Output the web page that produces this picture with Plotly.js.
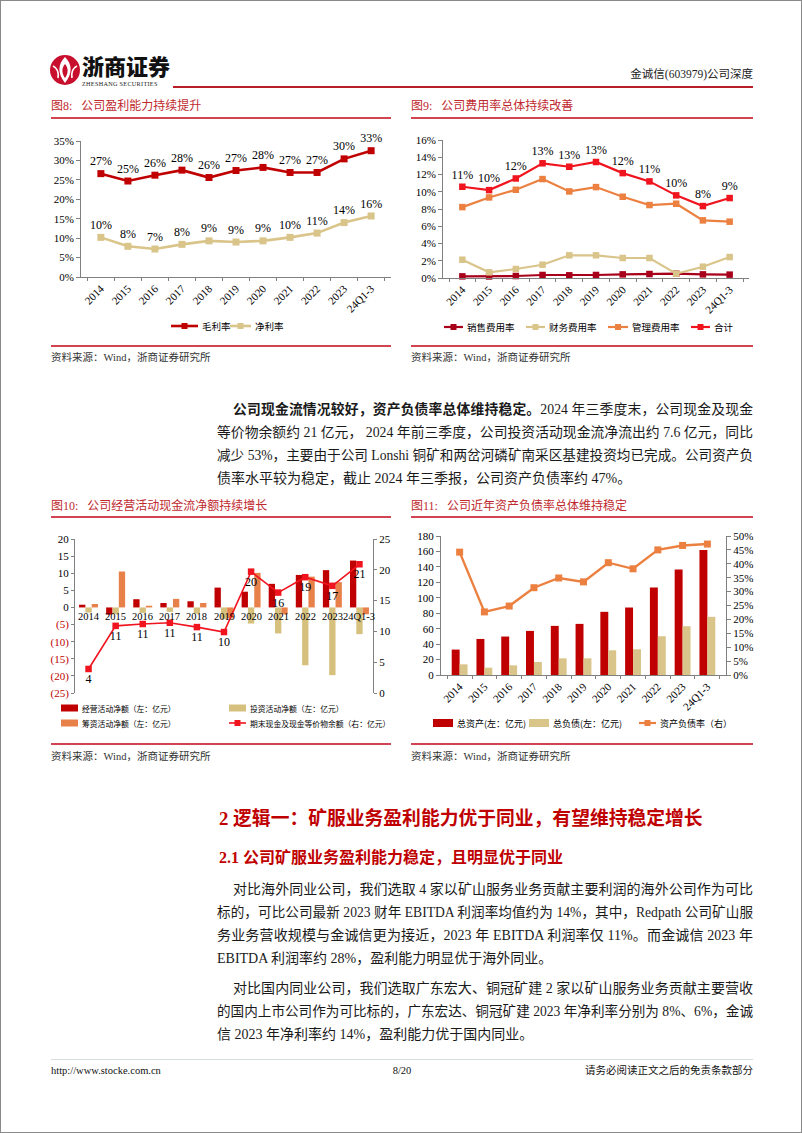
<!DOCTYPE html>
<html>
<head>
<meta charset="utf-8">
<script src="https://cdn.plot.ly/plotly-3.0.1.min.js"></script>
<style>
  html,body{margin:0;padding:0;background:#fff;}
  #page{position:relative;width:800px;height:1131px;border:1px solid #8a8a8a;overflow:hidden;
        font-family:"Liberation Serif","Noto Sans CJK SC",serif;color:#1a1a1a;background:#fff;}
  .a{position:absolute;white-space:nowrap;}
  .figt{font-size:12px;color:#C0282D;line-height:16px;}
  .rl{position:absolute;height:1.5px;background:#D24452;}
  .src{font-size:10.5px;color:#333;line-height:14px;}
  .jl{position:absolute;white-space:nowrap;font-size:14px;line-height:18px;text-align:justify;text-align-last:justify;overflow:visible;}
  .ll{position:absolute;white-space:nowrap;font-size:14px;line-height:18px;}
  .chart{position:absolute;}
</style>
</head>
<body>
<div id="page">
  <!-- header -->
  <svg class="a" style="left:48px;top:51px" width="32" height="36" viewBox="0 0 32 36">
    <circle cx="16" cy="18" r="15" fill="#C8102E"/>
    <path d="M16 5 C9 12 8 21 16 31 C24 21 23 12 16 5 Z" fill="#fff"/>
    <path d="M16 12 C12.5 16 12.5 21 16 26 C19.5 21 19.5 16 16 12 Z" fill="#C8102E"/>
    <path d="M4 14 C8 16 10 20 9 26" stroke="#fff" stroke-width="1.6" fill="none"/>
    <path d="M28 14 C24 16 22 20 23 26" stroke="#fff" stroke-width="1.6" fill="none"/>
  </svg>
  <div class="a" style="left:81px;top:51px;font-family:'Noto Sans CJK SC';font-weight:900;font-size:22px;line-height:27px;color:#111;">浙商证券</div>
  <div class="a" style="left:81px;top:79px;font-size:6.2px;line-height:8px;color:#222;letter-spacing:0.3px;">ZHESHANG SECURITIES</div>
  <div class="rl" style="left:172px;top:85px;width:580px;background:#B81D2A;"></div>
  <div class="a" style="left:600px;top:65px;width:152px;text-align:right;font-size:11.5px;line-height:16px;color:#222;">金诚信(603979)公司深度</div>

  <!-- row 1 titles -->
  <div class="a figt" style="left:50px;top:97px;">图8:&nbsp;&nbsp;&nbsp;公司盈利能力持续提升</div>
  <div class="rl" style="left:50px;top:116px;width:340px;"></div>
  <div class="a figt" style="left:410px;top:97px;">图9:&nbsp;&nbsp;&nbsp;公司费用率总体持续改善</div>
  <div class="rl" style="left:410px;top:116px;width:342px;"></div>

  <div id="c8" class="chart" style="left:40px;top:118px;width:360px;height:225px;"></div>
  <div id="c9" class="chart" style="left:400px;top:118px;width:360px;height:225px;"></div>

  <div class="rl" style="left:50px;top:344px;width:340px;"></div>
  <div class="rl" style="left:410px;top:344px;width:342px;"></div>
  <div class="a src" style="left:50px;top:350px;">资料来源：Wind，浙商证券研究所</div>
  <div class="a src" style="left:410px;top:350px;">资料来源：Wind，浙商证券研究所</div>

  <!-- paragraph 1 -->
  <div class="jl" style="left:232px;top:400px;width:520px;"><b>公司现金流情况较好，资产负债率总体维持稳定。</b>2024 年三季度末，公司现金及现金</div>
  <div class="jl" style="left:216px;top:423px;width:536px;">等价物余额约 21 亿元， 2024 年前三季度，公司投资活动现金流净流出约 7.6 亿元，同比</div>
  <div class="jl" style="left:216px;top:446px;width:536px;">减少 53%，主要由于公司 Lonshi 铜矿和两岔河磷矿南采区基建投资均已完成。公司资产负</div>
  <div class="ll" style="left:216px;top:469px;">债率水平较为稳定，截止 2024 年三季报，公司资产负债率约 47%。</div>

  <!-- row 2 titles -->
  <div class="a figt" style="left:50px;top:497px;">图10:&nbsp;&nbsp;&nbsp;公司经营活动现金流净额持续增长</div>
  <div class="rl" style="left:50px;top:515px;width:340px;"></div>
  <div class="a figt" style="left:410px;top:497px;">图11:&nbsp;&nbsp;&nbsp;公司近年资产负债率总体维持稳定</div>
  <div class="rl" style="left:410px;top:515px;width:342px;"></div>

  <div id="c10" class="chart" style="left:40px;top:520px;width:360px;height:222px;"></div>
  <div id="c11" class="chart" style="left:400px;top:520px;width:362px;height:222px;"></div>

  <div class="rl" style="left:50px;top:742px;width:340px;"></div>
  <div class="rl" style="left:410px;top:742px;width:342px;"></div>
  <div class="a src" style="left:50px;top:749px;">资料来源：Wind，浙商证券研究所</div>
  <div class="a src" style="left:410px;top:749px;">资料来源：Wind，浙商证券研究所</div>

  <!-- headings -->
  <div class="a" style="left:218px;top:805px;font-size:18.8px;line-height:25px;font-weight:bold;color:#C00000;">2 逻辑一：矿服业务盈利能力优于同业，有望维持稳定增长</div>
  <div class="a" style="left:218px;top:846px;font-size:16px;line-height:22px;font-weight:bold;color:#C00000;">2.1 公司矿服业务盈利能力稳定，且明显优于同业</div>

  <!-- paragraph 2 -->
  <div class="jl" style="left:232px;top:880px;width:520px;">对比海外同业公司，我们选取 4 家以矿山服务业务贡献主要利润的海外公司作为可比</div>
  <div class="jl" style="left:216px;top:903px;width:536px;">标的，可比公司最新 2023 财年 EBITDA 利润率均值约为 14%，其中，Redpath 公司矿山服</div>
  <div class="jl" style="left:216px;top:926px;width:536px;">务业务营收规模与金诚信更为接近，2023 年 EBITDA 利润率仅 11%。而金诚信 2023 年</div>
  <div class="ll" style="left:216px;top:949px;">EBITDA 利润率约 28%，盈利能力明显优于海外同业。</div>

  <!-- paragraph 3 -->
  <div class="jl" style="left:232px;top:979px;width:520px;">对比国内同业公司，我们选取广东宏大、铜冠矿建 2 家以矿山服务业务贡献主要营收</div>
  <div class="jl" style="left:216px;top:1002px;width:536px;">的国内上市公司作为可比标的，广东宏达、铜冠矿建 2023 年净利率分别为 8%、6%，金诚</div>
  <div class="ll" style="left:216px;top:1025px;">信 2023 年净利率约 14%，盈利能力优于国内同业。</div>

  <!-- footer -->
  <div class="a" style="left:50px;top:1058px;width:702px;height:1px;background:#d6dede;"></div>
  <div class="a src" style="left:50px;top:1063px;color:#111;">http://www.stocke.com.cn</div>
  <div class="a src" style="left:351px;top:1063px;width:100px;text-align:center;color:#111;">8/20</div>
  <div class="a src" style="left:552px;top:1063px;width:200px;text-align:right;color:#111;">请务必阅读正文之后的免责条款部分</div>
</div>

<script>
// ---------------- data ----------------
const years = ['2014','2015','2016','2017','2018','2019','2020','2021','2022','2023','24Q1-3'];

// Fig 8 (%)
const grossMargin = [26.6, 24.7, 26.2, 27.5, 25.6, 27.4, 28.2, 26.9, 26.9, 30.4, 32.5];
const netMargin   = [10.2, 7.9, 7.2, 8.4, 9.3, 9.0, 9.3, 10.2, 11.3, 14.0, 15.7];
const c8Ticks = [0, 5, 10, 15, 20, 25, 30, 35];

// Fig 9 (%)
const sellRate  = [0.19, 0.18, 0.23, 0.35, 0.31, 0.35, 0.42, 0.46, 0.50, 0.42, 0.39];
const finRate   = [2.12, 0.66, 1.04, 1.54, 2.63, 2.63, 2.32, 2.32, 0.50, 1.31, 2.43];
const mgmtRate  = [8.22, 9.34, 10.23, 11.47, 10.04, 10.54, 9.42, 8.46, 8.61, 6.68, 6.53];
const totalRate = [10.58, 10.19, 11.54, 13.3, 12.9, 13.45, 12.16, 11.2, 9.58, 8.34, 9.27];
const c9Ticks = [0, 2, 4, 6, 8, 10, 12, 14, 16];

// Fig 10 (亿元)
const opCash   = [0.8, -2.1, 2.4, 1.3, 1.8, 5.8, 4.6, 6.9, 9.5, 10.9, 13.7];
const invCash  = [-1.5, -1.9, -1.6, -1.3, -1.8, -3.4, -4.7, -7.6, -16.9, -19.8, -7.8];
const finCash  = [1.0, 10.5, 0.5, 2.5, 1.3, -3.2, 10.1, -2.0, 9.0, 7.4, -2.0];
const endCash  = [3.9, 10.9, 11.2, 11.4, 10.7, 9.9, 19.7, 16.3, 18.8, 17.4, 20.9];
const c10LeftTicks  = [-25, -20, -15, -10, -5, 0, 5, 10, 15, 20];
const c10RightTicks = [0, 5, 10, 15, 20, 25];

// Fig 11
const totalAssets = [32.9, 46.7, 49.8, 57.1, 63.6, 66.2, 81.8, 87.4, 113.4, 136.7, 161.8];
const totalDebt   = [13.8, 9.5, 12.5, 16.9, 21.6, 21.6, 32.0, 33.3, 50.2, 63.2, 75.3];
const debtRatio   = [44.2, 22.7, 24.8, 31.4, 34.9, 33.5, 40.4, 38.2, 45.0, 46.6, 47.1];
const c11LeftTicks  = [0, 20, 40, 60, 80, 100, 120, 140, 160, 180];
const c11RightTicks = [0, 5, 10, 15, 20, 25, 30, 35, 40, 45, 50];

// ---------------- styles ----------------
const FONT = '"Liberation Serif","Noto Sans CJK SC",serif';
const LFONT = '"Noto Sans CJK SC","Liberation Serif",sans-serif';
const AXC = '#808080';
const C_DARKRED = '#C00000';
const C_TAN = '#D9C48A';
const C_TAN2 = '#D6C07E';
const C_ORANGE = '#EB8040';
const C_ORANGE2 = '#E8804A';
const C_RED = '#F0141E';
const C_SELL = '#A8001A';
const config = {displayModeBar:false, staticPlot:true, responsive:false};

function ax(extra){
  return Object.assign({showgrid:false, zeroline:false, showline:true, linecolor:AXC, linewidth:1,
    ticks:'outside', ticklen:4, tickcolor:AXC, tickfont:{family:FONT, size:11, color:'#000'}}, extra);
}
function baseLayout(g){
  return {width:g.W, height:g.H, margin:{l:g.l, r:g.r, t:g.t, b:g.b, autoexpand:false},
          paper_bgcolor:'rgba(0,0,0,0)', plot_bgcolor:'rgba(0,0,0,0)',
          font:{family:FONT, color:'#000'}, showlegend:false};
}
const pct = v => Math.round(v) + '%';
const pctTicks = arr => arr.map(v => v + '%');

// custom legend (page-pixel positions converted to paper coordinates)
function legendItems(g, items, fontSize){
  const pw = g.W - g.l - g.r, ph = g.H - g.t - g.b;
  const px = X => (X - g.left - g.l) / pw;
  const py = Y => 1 - (Y - g.top - g.t) / ph;
  const shapes = [], annotations = [];
  items.forEach(it => {
    if (it.kind === 'patch') {
      shapes.push({type:'rect', xref:'paper', yref:'paper', x0:px(it.x0), x1:px(it.x1),
        y0:py(it.y + it.hh), y1:py(it.y - it.hh), fillcolor:it.color, line:{width:0}});
    } else {
      shapes.push({type:'line', xref:'paper', yref:'paper', x0:px(it.x0), x1:px(it.x1),
        y0:py(it.y), y1:py(it.y), line:{color:it.color, width:it.lw || 2}});
      shapes.push({type:'rect', xref:'paper', yref:'paper', xsizemode:'pixel', ysizemode:'pixel',
        xanchor:px((it.x0 + it.x1) / 2), yanchor:py(it.y), x0:-3, x1:3, y0:-3, y1:3,
        fillcolor:it.color, line:{width:0}});
    }
    annotations.push({xref:'paper', yref:'paper', x:px(it.x1 + 2), y:py(it.y), xanchor:'left', yanchor:'middle',
      text:it.text, showarrow:false, font:{family:LFONT, size:fontSize, color:'#000'}});
  });
  return {shapes, annotations};
}

// ---------------- Fig 8 ----------------
(function(){
  const g = {left:40, top:118, W:360, H:225, l:40, r:10, t:22, b:67};
  const traces = [
    {type:'scatter', mode:'lines+markers+text', name:'毛利率', x:years, y:grossMargin,
     text:grossMargin.map(pct), textposition:'top center', textfont:{family:FONT,size:12,color:'#000'},
     line:{color:C_DARKRED,width:2.6}, marker:{symbol:'square',size:7,color:C_DARKRED}, cliponaxis:false},
    {type:'scatter', mode:'lines+markers+text', name:'净利率', x:years, y:netMargin,
     text:netMargin.map(pct), textposition:'top center', textfont:{family:FONT,size:12,color:'#000'},
     line:{color:C_TAN,width:2.6}, marker:{symbol:'square',size:7,color:C_TAN}, cliponaxis:false}
  ];
  const L = baseLayout(g);
  L.xaxis = ax({type:'category', tickangle:-45, tickson:'boundaries', ticklen:3});
  L.yaxis = ax({range:[0,35], tickvals:c8Ticks, ticktext:pctTicks(c8Ticks)});
  const lg = legendItems(g, [
    {kind:'line', x0:170, x1:197, y:325, color:C_DARKRED, lw:2.6, text:'毛利率'},
    {kind:'line', x0:229, x1:250, y:325, color:C_TAN, lw:2.6, text:'净利率'}
  ], 9.5);
  L.shapes = lg.shapes; L.annotations = lg.annotations;
  Plotly.newPlot('c8', traces, L, config);
})();

// ---------------- Fig 9 ----------------
(function(){
  const g = {left:400, top:118, W:360, H:225, l:42, r:12, t:21, b:66};
  const mk = (name, y, color, withText) => ({type:'scatter', mode: withText ? 'lines+markers+text' : 'lines+markers',
     name, x:years, y, line:{color, width:2.2}, marker:{symbol:'square', size:6.5, color},
     text: withText ? y.map(pct) : undefined, textposition:'top center',
     textfont:{family:FONT,size:12,color:'#000'}, cliponaxis:false});
  const traces = [
    mk('销售费用率', sellRate, C_SELL, false),
    mk('财务费用率', finRate, C_TAN, false),
    mk('管理费用率', mgmtRate, C_ORANGE, false),
    mk('合计', totalRate, C_RED, true)
  ];
  const L = baseLayout(g);
  L.xaxis = ax({type:'category', tickangle:-45, tickson:'boundaries', ticklen:3});
  L.yaxis = ax({range:[0,16], tickvals:c9Ticks, ticktext:pctTicks(c9Ticks)});
  const lg = legendItems(g, [
    {kind:'line', x0:443, x1:462, y:326, color:C_SELL, lw:2.2, text:'销售费用率'},
    {kind:'line', x0:525, x1:544, y:326, color:C_TAN, lw:2.2, text:'财务费用率'},
    {kind:'line', x0:607, x1:627, y:326, color:C_ORANGE, lw:2.2, text:'管理费用率'},
    {kind:'line', x0:690, x1:709, y:326, color:C_RED, lw:2.2, text:'合计'}
  ], 9.5);
  L.shapes = lg.shapes; L.annotations = lg.annotations;
  Plotly.newPlot('c9', traces, L, config);
})();

// ---------------- Fig 10 ----------------
(function(){
  const g = {left:40, top:520, W:360, H:222, l:34, r:28, t:18, b:50};
  const traces = [
    {type:'bar', name:'经营活动净额（左：亿元）', x:years, y:opCash, marker:{color:C_DARKRED}},
    {type:'bar', name:'投资活动净额（左：亿元）', x:years, y:invCash, marker:{color:C_TAN2}},
    {type:'bar', name:'筹资活动净额（左：亿元）', x:years, y:finCash, marker:{color:C_ORANGE2}},
    {type:'scatter', mode:'lines+markers+text', name:'期末现金及现金等价物余额（右：亿元）', x:years, y:endCash,
     yaxis:'y2', line:{color:C_RED,width:1.6}, marker:{symbol:'square',size:6.5,color:C_RED},
     text:endCash.map(v=>String(Math.round(v))), textposition:'bottom center',
     textfont:{family:FONT,size:12,color:'#000'}, cliponaxis:false}
  ];
  const L = baseLayout(g);
  L.barmode = 'group';
  L.bargap = 0.3;
  L.xaxis = {type:'category', categoryarray:years, range:[-0.5, years.length - 0.5], autorange:false,
             showline:false, showticklabels:false, ticks:'', showgrid:false, zeroline:false};
  L.yaxis = ax({range:[-25,20], tickvals:c10LeftTicks, ticklen:3,
     ticktext:c10LeftTicks.map(v => v < 0 ? '<span style="color:#C00000">(' + (-v) + ')</span>' : String(v))});
  L.yaxis2 = ax({range:[0,25], tickvals:c10RightTicks, overlaying:'y', side:'right', ticklen:3});
  const lg = legendItems(g, [
    {kind:'patch', x0:60, x1:77, y:707, hh:3.5, color:C_DARKRED, text:'经营活动净额（左：亿元）'},
    {kind:'patch', x0:228, x1:245, y:707, hh:3.5, color:C_TAN2, text:'投资活动净额（左：亿元）'},
    {kind:'patch', x0:60, x1:77, y:722, hh:3.5, color:C_ORANGE2, text:'筹资活动净额（左：亿元）'},
    {kind:'line', x0:228, x1:245, y:722, color:C_RED, lw:1.6, text:'期末现金及现金等价物余额（右：亿元）'}
  ], 7.8);
  L.shapes = lg.shapes;
  // category labels drawn along the zero line (x given as category index)
  L.annotations = years.map((c, i) => ({x:i, y:0, xref:'x', yref:'y', text:c, showarrow:false,
     yanchor:'top', yshift:-2, font:{family:FONT,size:10.5,color:'#000'}})).concat(lg.annotations);
  Plotly.newPlot('c10', traces, L, config);
})();

// ---------------- Fig 11 ----------------
(function(){
  const g = {left:400, top:520, W:362, H:222, l:40, r:37, t:15, b:68};
  const traces = [
    {type:'bar', name:'总资产(左：亿元)', x:years, y:totalAssets, marker:{color:C_DARKRED}},
    {type:'bar', name:'总负债(左：亿元)', x:years, y:totalDebt, marker:{color:C_TAN}},
    {type:'scatter', mode:'lines+markers', name:'资产负债率（右）', x:years, y:debtRatio, yaxis:'y2',
     line:{color:C_ORANGE,width:2.4}, marker:{symbol:'square',size:7,color:C_ORANGE}, cliponaxis:false}
  ];
  const L = baseLayout(g);
  L.barmode = 'group';
  L.bargap = 0.36;
  L.xaxis = ax({type:'category', tickangle:-45, tickson:'boundaries', ticklen:3});
  L.yaxis = ax({range:[0,180], tickvals:c11LeftTicks});
  L.yaxis2 = ax({range:[0,50], tickvals:c11RightTicks, ticktext:pctTicks(c11RightTicks), overlaying:'y', side:'right'});
  const lg = legendItems(g, [
    {kind:'patch', x0:432, x1:452, y:722, hh:4, color:C_DARKRED, text:'总资产(左：亿元)'},
    {kind:'patch', x0:528, x1:548, y:722, hh:4, color:C_TAN, text:'总负债(左：亿元)'},
    {kind:'line', x0:638, x1:655, y:722, color:C_ORANGE, lw:2.2, text:'资产负债率（右）'}
  ], 9);
  L.shapes = lg.shapes; L.annotations = lg.annotations;
  Plotly.newPlot('c11', traces, L, config);
})();

// fit justified lines
document.querySelectorAll('.jl').forEach(el => {
  let fs = 14;
  while (el.scrollWidth > el.clientWidth + 0.5 && fs > 10) { fs -= 0.2; el.style.fontSize = fs + 'px'; }
});
</script>
</body>
</html>
